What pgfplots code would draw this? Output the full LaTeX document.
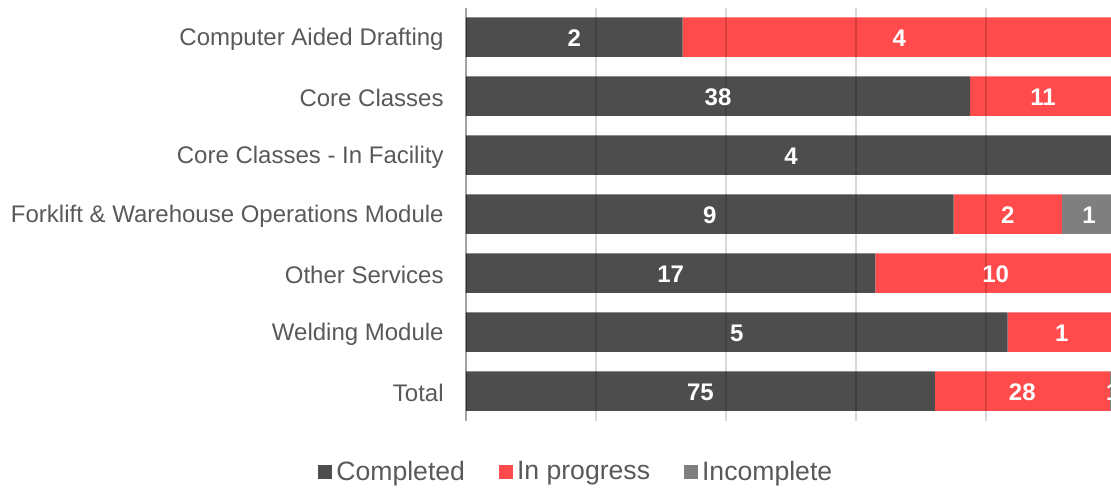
\documentclass[border=0pt]{standalone}
\usepackage{pgfplots}
\pgfplotsset{compat=1.18}
\usepackage{fontspec}
\setmainfont{Liberation Sans}
\definecolor{done}{HTML}{4D4D4D}
\definecolor{prog}{HTML}{FF4B4B}
\definecolor{inc}{HTML}{7F7F7F}
\definecolor{lbl}{HTML}{595959}
\pgfplotsset{base/.style={
  scale only axis,
  width=325pt, height=206.5pt,
  xmin=0, xmax=100,
  ymin=-0.5, ymax=6.5,
  y dir=reverse,
}}

\begin{document}
\begin{tikzpicture}
\begin{axis}[
  base,
  xbar stacked,
  bar width=19.75pt,
  ytick={0,...,6},
  yticklabels={Computer Aided Drafting, Core Classes, Core Classes - In Facility, Forklift \& Warehouse Operations Module, Other Services, Welding Module, Total},
  xtick={0,20,...,100},
  xticklabels={},
  xmajorgrids,
  grid style={black, opacity=0.15, line width=0.6pt},
  axis on top,
  axis x line*=bottom, axis y line*=left,
  x axis line style={draw=none},
  y axis line style={black, opacity=0.25, line width=0.6pt},
  major tick length=0pt,
  yticklabel style={font=\fontsize{12}{14}\selectfont, text=lbl, inner sep=0pt, xshift=-11pt, yshift=-1pt},
  legend columns=3,
  legend cell align=left,
  legend style={draw=none, fill=none, at={(-0.2277,-0.1247)}, anchor=west, inner sep=0pt,
    font=\fontsize{13.3}{15}\selectfont, text=lbl,
    /tikz/every even column/.append style={column sep=15pt}},
  legend image code/.code={\fill[#1,draw=none] (0pt,-3.5pt) rectangle (7pt,3.5pt);},
]
% shares of each row, in percent
\addplot[fill=done, draw=none] coordinates {(33.333,0) (77.551,1) (100,2) (75,3) (62.963,4) (83.333,5) (72.115,6)};
\addplot[fill=prog, draw=none] coordinates {(66.667,0) (22.449,1) (0,2) (16.667,3) (37.037,4) (16.667,5) (26.923,6)};
\addplot[fill=inc, draw=none] coordinates {(0,0) (0,1) (0,2) (8.333,3) (0,4) (0,5) (0.962,6)};
\legend{Completed, In progress, Incomplete}
\coordinate (O) at (axis cs:0,6.5);
\end{axis}
% counts, placed at the middle of each segment
\begin{axis}[
  base,
  hide axis,
  point meta=explicit symbolic,
  nodes near coords,
  every node near coord/.append style={font=\bfseries\fontsize{12}{14}\selectfont, text=white, anchor=center, yshift=-0.5pt},
]
\addplot[draw=none, mark=none, only marks] coordinates {
  (16.667,0) [2] (66.667,0) [4]
  (38.776,1) [38] (88.776,1) [11]
  (50,2) [4]
  (37.5,3) [9] (83.333,3) [2] (95.833,3) [1]
  (31.481,4) [17] (81.481,4) [10]
  (41.667,5) [5] (91.667,5) [1]
  (36.058,6) [75] (85.577,6) [28] (99.519,6) [1]
};
\end{axis}
\pgfresetboundingbox
\path ([shift={(-233pt,-34.25pt)}]O) rectangle ([shift={(322.5pt,210.25pt)}]O);
\end{tikzpicture}
\end{document}
